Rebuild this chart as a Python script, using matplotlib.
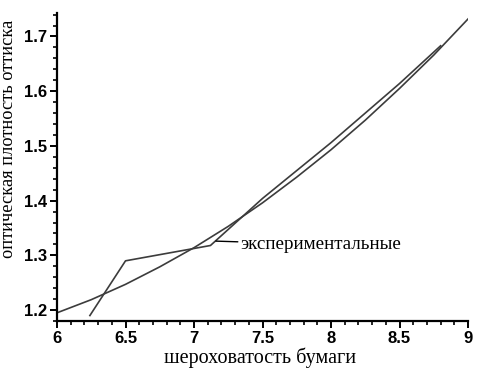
import numpy as np
import matplotlib.pyplot as plt
from matplotlib.ticker import MultipleLocator

# smooth (model) curve
model_x = [6.0, 6.25, 6.5, 6.75, 7.0, 7.25, 7.5, 7.75, 8.0, 8.25, 8.5, 8.75, 9.0]
model_y = [1.195, 1.219, 1.247, 1.279, 1.314, 1.353, 1.396, 1.443, 1.493, 1.547, 1.605, 1.666, 1.732]

# experimental points
exp_x = [6.24, 6.5, 7.12, 7.5, 8.0, 8.5, 8.8]
exp_y = [1.19, 1.29, 1.318, 1.404, 1.506, 1.614, 1.683]

x_ticks = [6, 6.5, 7, 7.5, 8, 8.5, 9]
x_tick_labels = ['6', '6.5', '7', '7.5', '8', '8.5', '9']
y_ticks = [1.2, 1.3, 1.4, 1.5, 1.6, 1.7]
y_tick_labels = ['1.2', '1.3', '1.4', '1.5', '1.6', '1.7']

fig = plt.figure(figsize=(4.86, 3.7), dpi=100)
ax = fig.add_axes([0.1173, 0.1324, 0.8457, 0.8326])

line_col = '#3c3c3c'
ax.plot(model_x, model_y, color=line_col, lw=1.2)
ax.plot(exp_x, exp_y, color=line_col, lw=1.2)

ax.annotate('экспериментальные', xy=(7.16, 1.326), xytext=(7.34, 1.32),
            fontsize=13.7, family='Liberation Serif', va='center', ha='left',
            arrowprops=dict(arrowstyle='-', color='black', lw=1.0,
                            shrinkA=0, shrinkB=0))

ax.set_xlim(6, 9)
ax.set_ylim(1.18, 1.743)

for s in ['top', 'right']:
    ax.spines[s].set_visible(False)
for s in ['left', 'bottom']:
    ax.spines[s].set_linewidth(1.6)

ax.set_xticks(x_ticks)
ax.set_xticklabels(x_tick_labels)
ax.set_yticks(y_ticks)
ax.set_yticklabels(y_tick_labels)
ax.xaxis.set_minor_locator(MultipleLocator(0.1))
ax.yaxis.set_minor_locator(MultipleLocator(0.02))
ax.tick_params(which='major', direction='out', length=5, width=1.4, pad=2)
ax.tick_params(which='minor', direction='out', length=3, width=1.2)
for lab in ax.get_xticklabels() + ax.get_yticklabels():
    lab.set_fontfamily('Liberation Sans')
    lab.set_fontweight('bold')
    lab.set_fontsize(12)

ax.set_xlabel('шероховатость бумаги', family='Liberation Serif', fontsize=14.5)
ax.xaxis.set_label_coords(0.495, -0.087)
ax.set_ylabel('оптическая плотность оттиска', family='Liberation Serif', fontsize=13.2)
ax.yaxis.set_label_coords(-0.097, 0.59)

fig.savefig('out.png', dpi=100)
